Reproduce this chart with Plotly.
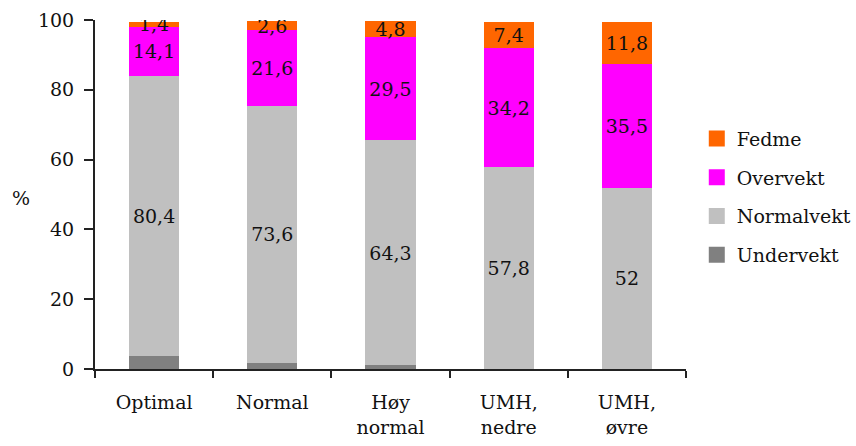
import plotly.graph_objects as go

categories = ["Optimal", "Normal", "Høy<br>normal", "UMH,<br>nedre", "UMH,<br>øvre"]
undervekt = [3.6, 1.8, 1.2, 0.0, 0.0]
normalvekt = [80.4, 73.6, 64.3, 57.8, 52]
overvekt = [14.1, 21.6, 29.5, 34.2, 35.5]
fedme = [1.4, 2.6, 4.8, 7.4, 11.8]

y_ticks = [0, 20, 40, 60, 80, 100]


def fmt(v):
    s = ("%.1f" % v).rstrip("0").rstrip(".")
    return s.replace(".", ",")


FONT = "DejaVu Serif"
INK = "#111111"
FS = 19

series = [
    ("Undervekt", undervekt, "#808080", False),
    ("Normalvekt", normalvekt, "#C0C0C0", True),
    ("Overvekt", overvekt, "#FF00FF", True),
    ("Fedme", fedme, "#FF6600", True),
]

fig = go.Figure()
for name, vals, color, labelled in series:
    fig.add_trace(go.Bar(
        x=categories, y=vals, name=name,
        marker=dict(color=color, line=dict(width=0)),
        text=[fmt(v) for v in vals] if labelled else None,
        textposition="inside" if labelled else "none",
        insidetextanchor="middle",
        textangle=0,
        textfont=dict(family=FONT, size=FS, color=INK),
        showlegend=False,
        hoverinfo="skip",
    ))

# legend entries with larger square swatches, top to bottom
for name, vals, color, _ in reversed(series):
    fig.add_trace(go.Scatter(
        x=[None], y=[None], mode="markers", name=name,
        legendgroup=name,
        marker=dict(symbol="square", size=16, color=color),
        showlegend=True,
    ))

fig.add_annotation(
    text="%", xref="paper", yref="paper", x=-0.125, y=0.49,
    showarrow=False, xanchor="center", yanchor="middle",
    font=dict(family=FONT, size=FS, color=INK),
)

fig.update_layout(
    barmode="stack",
    bargap=0.575,
    width=856, height=446,
    margin=dict(l=95, r=170, t=20, b=77, autoexpand=False),
    paper_bgcolor="white", plot_bgcolor="white",
    font=dict(family=FONT, size=FS, color=INK),
    uniformtext=dict(mode="show", minsize=FS),
    legend=dict(
        xref="container", yref="container",
        x=0.814, y=0.559, xanchor="left", yanchor="middle",
        traceorder="grouped", tracegroupgap=11,
        font=dict(family=FONT, size=FS, color=INK),
        itemwidth=30, bgcolor="rgba(0,0,0,0)",
    ),
    xaxis=dict(
        showline=True, linecolor="#222222", linewidth=2,
        ticks="outside", tickson="boundaries", ticklen=7,
        tickcolor="#222222", tickwidth=2,
        ticklabelstandoff=15, automargin=False,
        showgrid=False,
    ),
    yaxis=dict(
        range=[0, 100], tickvals=y_ticks,
        showline=True, linecolor="#222222", linewidth=2,
        ticks="outside", ticklen=9, tickcolor="#222222", tickwidth=2,
        ticklabelstandoff=6, automargin=False,
        showgrid=False, zeroline=False,
    ),
)

fig.write_html("out.html")
